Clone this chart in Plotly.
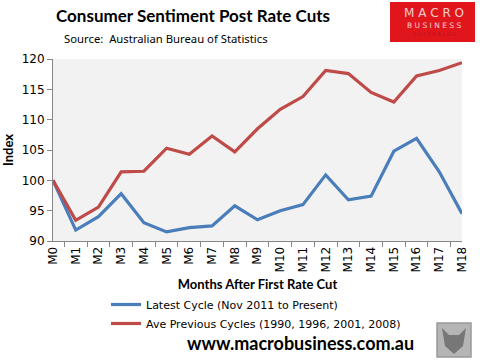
import plotly.graph_objects as go

months = [f"M{i}" for i in range(19)]
latest = [100, 91.8, 94.0, 97.8, 93.0, 91.5, 92.2, 92.5, 95.8, 93.5, 95.0, 96.0,
          100.9, 96.8, 97.4, 104.8, 106.9, 101.4, 94.5]
previous = [100, 93.4, 95.6, 101.4, 101.5, 105.3, 104.3, 107.3, 104.7, 108.5, 111.7,
            113.8, 118.1, 117.6, 114.5, 112.9, 117.2, 118.1, 119.4]
y_ticks = [90, 95, 100, 105, 110, 115, 120]

W, H = 480, 364
L, R, T, B = 53, 462, 59, 241


def px(x):
    return (x - L) / (R - L)


def py(y):
    return (B - y) / (B - T)


fig = go.Figure()
fig.add_trace(go.Scatter(x=months, y=latest, mode="lines",
                         name="Latest Cycle (Nov 2011 to Present)",
                         line=dict(color="#4a7ebb", width=3.2)))
fig.add_trace(go.Scatter(x=months, y=previous, mode="lines",
                         name="Ave Previous Cycles (1990, 1996, 2001, 2008)",
                         line=dict(color="#be4b48", width=3.2)))

fig.update_layout(
    width=W, height=H,
    margin=dict(l=L, r=W - R, t=T, b=H - B, autoexpand=False),
    paper_bgcolor="white", plot_bgcolor="#f2f2f2",
    font=dict(family="DejaVu Sans", size=12, color="#000"),
    showlegend=True,
    legend=dict(x=px(106), y=py(290), xanchor="left", yanchor="top",
                font=dict(family="DejaVu Sans", size=11, color="#000"),
                bgcolor="rgba(0,0,0,0)", itemwidth=30, tracegroupgap=0),
    xaxis=dict(type="category", tickangle=-90, showgrid=False,
               showline=True, linecolor="#868686", linewidth=1,
               ticks="outside", tickson="boundaries", ticklen=5, tickcolor="#868686",
               tickfont=dict(family="DejaVu Sans", size=12, color="#000"),
               title=dict(text="<b>Months After First Rate Cut</b>",
                          font=dict(family="Lato", size=13, color="#000"), standoff=8)),
    yaxis=dict(range=[90, 120], tickvals=y_ticks, showgrid=False,
               showline=True, linecolor="#868686", linewidth=1,
               ticks="outside", ticklen=5, tickcolor="#868686",
               tickfont=dict(family="DejaVu Sans", size=12, color="#000"),
               title=dict(text="<b>Index</b>",
                          font=dict(family="Lato", size=13, color="#000"), standoff=10)),
)

# Title and source
fig.add_annotation(text="<b>Consumer Sentiment Post Rate Cuts</b>", xref="paper", yref="paper",
                   x=px(193), y=py(16), xanchor="center", yanchor="middle", showarrow=False,
                   font=dict(family="Lato", size=17, color="#000"))
fig.add_annotation(text="Source:  Australian Bureau of Statistics", xref="paper", yref="paper",
                   x=px(62), y=py(39), xanchor="left", yanchor="middle", showarrow=False,
                   font=dict(family="Noto Sans", size=11.3, color="#000"))

# Logo box
fig.add_shape(type="rect", xref="paper", yref="paper",
              x0=px(390), x1=px(475), y0=py(42), y1=py(2),
              fillcolor="#e1161d", line=dict(width=0), layer="above")
fig.add_annotation(text="M A C R O", xref="paper", yref="paper", x=px(434), y=py(13),
                   xanchor="center", yanchor="middle", showarrow=False,
                   font=dict(family="DejaVu Sans", size=12, color="#f4d0d0"))
fig.add_annotation(text="B U S I N E S S", xref="paper", yref="paper", x=px(434), y=py(25),
                   xanchor="center", yanchor="middle", showarrow=False,
                   font=dict(family="DejaVu Sans", size=7.5, color="#f4d0d0"))
fig.add_annotation(text="S U P E R B L O G", xref="paper", yref="paper", x=px(434), y=py(34),
                   xanchor="center", yanchor="middle", showarrow=False,
                   font=dict(family="DejaVu Sans", size=5, color="#c01018"))

# Footer
fig.add_annotation(text="<b>www.macrobusiness.com.au</b>", xref="paper", yref="paper",
                   x=px(300), y=py(343), xanchor="center", yanchor="middle", showarrow=False,
                   font=dict(family="Lato", size=18, color="#000"))

# Wolf logo placeholder
fig.add_shape(type="rect", xref="paper", yref="paper",
              x0=px(437), x1=px(471), y0=py(357), y1=py(323),
              fillcolor="#b5b5b5", line=dict(color="#999", width=1.5))
fig.add_shape(type="path", xref="paper", yref="paper",
              path=(f"M {px(442)},{py(328)} L {px(449)},{py(335)} L {px(459)},{py(335)} "
                    f"L {px(466)},{py(328)} L {px(463)},{py(346)} L {px(454)},{py(354)} "
                    f"L {px(445)},{py(346)} Z"),
              fillcolor="#777", line=dict(width=0))

fig.write_html("out.html", config={"displayModeBar": False},
               post_script="document.body.style.margin='0';document.body.style.overflow='hidden';")
